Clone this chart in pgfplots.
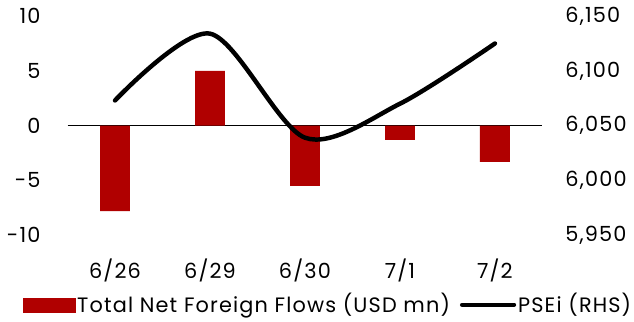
\documentclass[border=0pt]{standalone}
\usepackage{pgfplots}
\pgfplotsset{compat=1.18}
\usepackage{fontspec}
\setmainfont[LetterSpace=5.5]{Poppins}
\definecolor{barred}{HTML}{B00000}
\begin{document}
\fontsize{21}{24}\selectfont
\begin{tikzpicture}
\begin{axis}[
  scale only axis, width=477bp, height=220bp,
  xmin=-0.5, xmax=4.5, ymin=-10, ymax=10,
  axis line style={draw=none},
  ytick={-10,-5,0,5,10},
  xtick={0,1,2,3,4},
  xticklabels={6/26,6/29,6/30,7/1,7/2},
  major tick length=0pt,
  tick style={draw=none},
  xticklabel style={yshift=-17bp},
  yticklabel style={xshift=-20bp},
  /pgf/number format/assume math mode=true,
  ticklabel style={font=\fontsize{21}{24}\selectfont},
  clip=false,
]
\addplot[black, line width=0.8pt] coordinates {(-0.5,0) (4.5,0)};
\addplot[ybar, bar width=30bp, fill=barred, draw=none] coordinates {
 (0,-7.8) (1,5.0) (2,-5.5) (3,-1.3) (4,-3.3)};
\end{axis}
\begin{axis}[
  scale only axis, width=477bp, height=220bp,
  xmin=-0.5, xmax=4.5, ymin=5950, ymax=6150,
  axis y line*=right, axis x line=none,
  axis line style={draw=none},
  ytick={5950,6000,6050,6100,6150},
  major tick length=0pt, tick style={draw=none},
  yticklabel style={xshift=16bp},
  /pgf/number format/.cd, 1000 sep={,}, assume math mode=true, /pgfplots/.cd,
  ticklabel style={font=\fontsize{21}{24}\selectfont},
  legend style={at={(-0.094,-0.318)}, anchor=west, draw=none, fill=none,
    font=\fontsize{21}{24}\selectfont, legend columns=2,
    /tikz/every odd column/.append style={column sep=0bp},
    /tikz/every even column/.append style={column sep=8bp},
    inner sep=0pt},
  clip=false,
]
\addlegendimage{legend image code/.code={\fill[barred] (0bp,-7bp) rectangle (52bp,7bp);}}
\addlegendentry{Total Net Foreign Flows (USD mn)}
\addplot[black, line width=4.5pt, smooth, line cap=round,
  legend image code/.code={\draw[black, line width=4.5pt, line cap=round] (0bp,0bp) -- (52bp,0bp);}]
  coordinates {(0,6073) (1,6134) (2,6039) (3,6070) (4,6125)};
\addlegendentry{PSEi (RHS)}
\end{axis}
\useasboundingbox (-65bp,-87bp) rectangle (569bp,235bp);
\end{tikzpicture}
\end{document}
